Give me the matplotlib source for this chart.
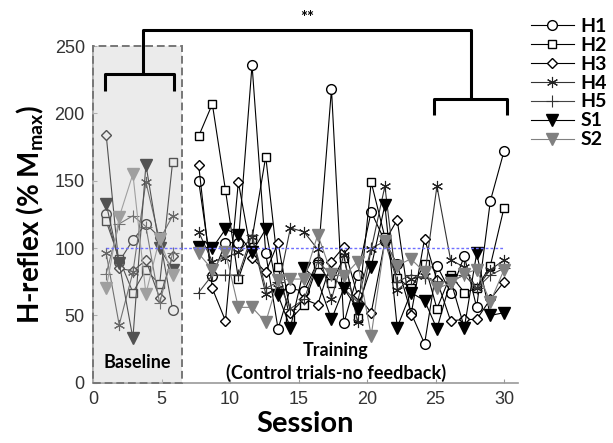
import matplotlib
matplotlib.use("Agg")
import matplotlib.pyplot as plt
from matplotlib.patches import Rectangle
from matplotlib.lines import Line2D

# ---------------- data ----------------
series_names = ["H1", "H2", "H3", "H4", "H5", "S1", "S2"]

baseline_sessions = [0.95, 1.9, 2.9, 3.85, 4.85, 5.8]
training_sessions = [7.7, 8.7, 9.66, 10.6, 11.6, 12.6, 13.5, 14.4, 15.4, 16.4,
                     17.4, 18.3, 19.3, 20.3, 21.3, 22.2, 23.2, 24.2, 25.1, 26.1,
                     27.1, 28.0, 29.0, 30.0]

h1_base = [125, 90, 106, 118, 108, 54]
h2_base = [120, 92, 67, 84, 73, 164]
h3_base = [184, 85, 83, 91, 63, 94]
h4_base = [96, 43, 82, 149, 106, 124]
h5_base = [81, 118, 124, 116, 59, 96]
s1_base = [133, 89, 33, 162, 100, 84]
s2_base = [70, 123, 155, 66, 107, 80]

h1_train = [150, 79, 104, 104, 236, 96, 40, 70, 68, 90, 218, 44, 80, 127, 105, 88,
            52, 29, 87, 67, 94, 56, 135, 172]
h2_train = [183, 207, 143, 77, 107, 168, 86, 47, 58, 88, 74, 93, 48, 149, 108, 78,
            70, 88, 55, 80, 67, 70, 87, 130]
h3_train = [162, 70, 46, 149, 93, 82, 104, 52, 62, 58, 90, 101, 65, 52, 105, 121,
            50, 107, 76, 46, 47, 47, 62, 75]
h4_train = [112, 90, 93, 97, 108, 66, 70, 115, 112, 99, 62, 95, 45, 99, 146, 69,
            77, 79, 146, 91, 86, 70, 84, 91]
h5_train = [67, 80, 80, 80, 110, 70, 75, 55, 62, 90, 80, 70, 60, 100, 105, 75,
            80, 78, 75, 75, 80, 70, 80, 85]
s1_train = [101, 100, 114, 110, 97, 114, 65, 41, 85, 76, 47, 70, 55, 86, 132, 41,
            67, 61, 40, 76, 41, 96, 50, 52]
s2_train = [96, 84, 97, 56, 56, 45, 76, 77, 77, 110, 81, 79, 90, 35, 105, 87,
            92, 82, 70, 74, 81, 84, 60, 84]

baseline_values = [h1_base, h2_base, h3_base, h4_base, h5_base, s1_base, s2_base]
training_values = [h1_train, h2_train, h3_train, h4_train, h5_train, s1_train, s2_train]

x_ticks = [0, 5, 10, 15, 20, 25, 30]
y_ticks = [0, 50, 100, 150, 200, 250]

# ---------------- styles ----------------
styles = {
    "H1": dict(marker="o", ms=7, mfc="white", mec="black", color="black", lw=0.8),
    "H2": dict(marker="s", ms=6, mfc="white", mec="black", color="black", lw=0.8),
    "H3": dict(marker="D", ms=5.5, mfc="white", mec="black", color="black", lw=0.8),
    "H4": dict(marker=(6, 2, 0), ms=8, mfc="black", mec="#222222", color="#333333", lw=0.8, mew=0.8),
    "H5": dict(marker="+", ms=9, mfc="black", mec="#333333", color="#444444", lw=0.8, mew=0.8),
    "S1": dict(marker="v", ms=9, mfc="black", mec="black", color="black", lw=0.8),
    "S2": dict(marker="v", ms=9, mfc="#808080", mec="#808080", color="#808080", lw=0.8),
}

label_font = "Lato"
tick_font = "Liberation Sans"

fig = plt.figure(figsize=(6.13, 4.43), dpi=100)
ax = fig.add_axes([0.152, 0.136, 0.6926, 0.760])

for name, bv, tv in zip(series_names, baseline_values, training_values):
    st = styles[name]
    ax.plot(baseline_sessions, bv, zorder=3, **st)
    ax.plot(training_sessions, tv, zorder=3, **st)

# baseline shaded box (drawn over the data so those markers appear faded)
ax.add_patch(Rectangle((0, 0), 6.45, 250, facecolor="#cfcfcf", alpha=0.4,
                       edgecolor="none", zorder=5, clip_on=False))
ax.add_patch(Rectangle((0, 0), 6.45, 250, facecolor="none", edgecolor="#777777",
                       linestyle=(0, (4, 2)), lw=1.4, zorder=6, clip_on=False))

# reference line at 100 %
ax.plot([0.9, 30], [100, 100], color="#6f6fff", lw=1.0, linestyle=(0, (2, 1.5)), zorder=7)

# significance brackets
bk = dict(color="black", lw=2.2, clip_on=False, zorder=8, solid_capstyle="butt")
ax.plot([3.66, 3.66, 27.6, 27.6], [229, 262, 262, 210.5], **bk)
ax.plot([0.86, 0.86, 5.9, 5.9], [217, 229, 229, 217], **bk)
ax.plot([24.9, 24.9, 30.2, 30.2], [199, 210.5, 210.5, 199], **bk)
ax.text(15.6, 271, "**", ha="center", va="center", fontsize=12, fontweight="bold",
        family=label_font, clip_on=False)

ax.text(3.2, 15, "Baseline", ha="center", va="center", fontsize=13, fontweight="bold",
        family=label_font, zorder=9)
ax.text(17.7, 24, "Training", ha="center", va="center", fontsize=13, fontweight="bold",
        family=label_font, zorder=9)
ax.text(17.7, 7, "(Control trials-no feedback)", ha="center", va="center", fontsize=13,
        fontweight="bold", family=label_font, zorder=9)

ax.set_xlim(0, 31)
ax.set_ylim(0, 250)
ax.set_xticks(x_ticks)
ax.set_yticks(y_ticks)
ax.tick_params(direction="in", length=3, width=0.8, colors="#999999", labelcolor="#333333",
               labelsize=13, pad=6)
for lab in ax.get_xticklabels() + ax.get_yticklabels():
    lab.set_family(tick_font)
for s in ["top", "right"]:
    ax.spines[s].set_visible(False)
for s in ["left", "bottom"]:
    ax.spines[s].set_color("#999999")
    ax.spines[s].set_linewidth(1.2)

ax.set_xlabel("Session", fontsize=21, fontweight="bold", family=label_font, labelpad=2)
ax.set_ylabel(r"H-reflex (% M$_{\mathregular{max}}$)", fontsize=20, fontweight="bold",
              family=label_font, labelpad=6)

handles = [Line2D([], [], **styles[n]) for n in series_names]
leg = fig.legend(handles, series_names, loc="upper left", bbox_to_anchor=(0.866, 0.96),
                 frameon=False, handlelength=2.2, labelspacing=0.1, handletextpad=0.35,
                 borderpad=0, borderaxespad=0,
                 prop=dict(family=label_font, weight="bold", size=14))

fig.savefig("out.png", dpi=100)
